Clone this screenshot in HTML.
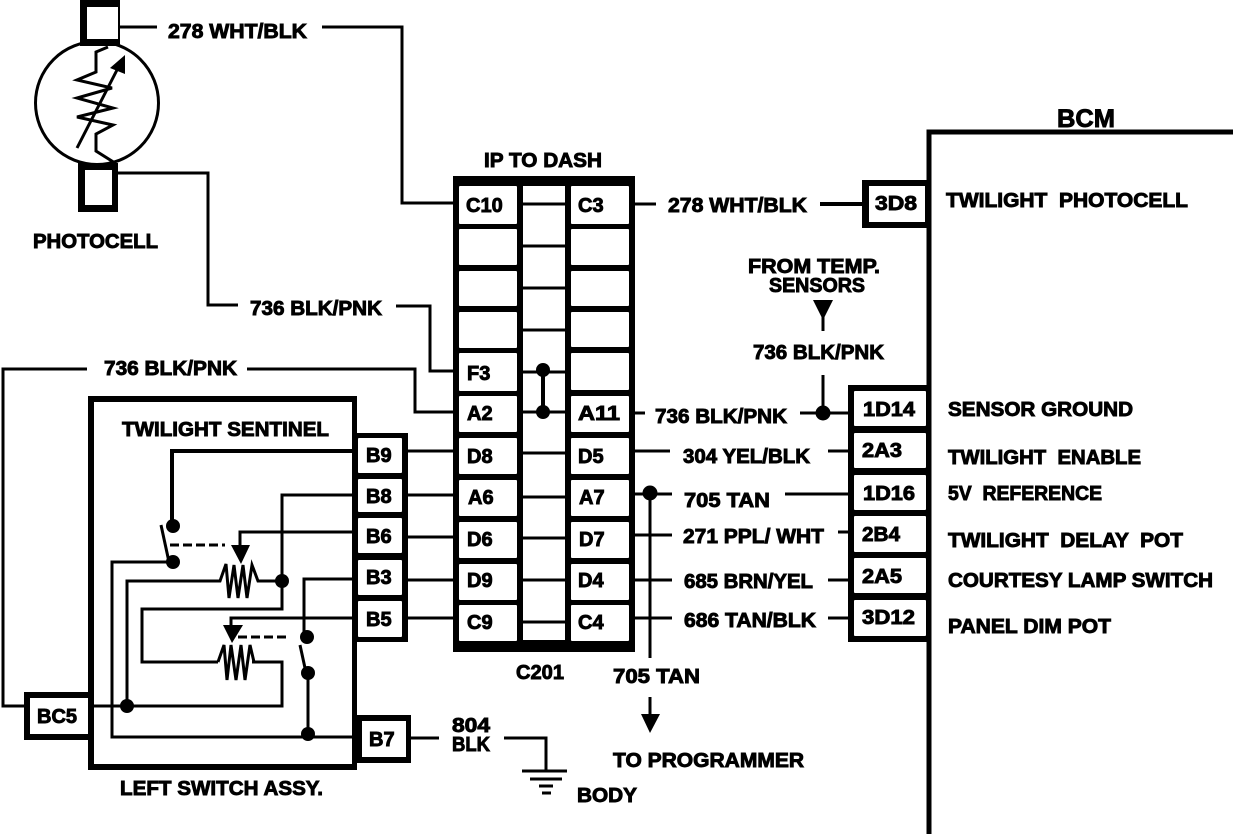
<!DOCTYPE html>
<html><head><meta charset="utf-8"><style>
html,body{margin:0;padding:0;background:#fff;width:1248px;height:834px;overflow:hidden}
svg{display:block}
text{font-family:"Liberation Sans",sans-serif;font-weight:bold;font-size:20px;fill:#000;stroke:#000;stroke-width:.9;white-space:pre}
.w{fill:none;stroke:#000;stroke-width:3}
.t{fill:none;stroke:#000;stroke-width:4}
.c{fill:#fff;stroke:none}
</style></head><body>
<svg width="1248" height="834" viewBox="0 0 1248 834" xmlns="http://www.w3.org/2000/svg">
<rect width="1248" height="834" fill="#fff"/>

<!-- Photocell -->
<circle cx="97" cy="103" r="61.5" class="w"/>
<rect x="87" y="7" width="32" height="32" fill="#fff"/>
<path d="M80 0H120V46H80Z M87 7V39H118V7Z" fill-rule="evenodd"/>
<rect x="85" y="170" width="27" height="35" fill="#fff"/>
<path d="M78 163H118V212H78Z M85 170V205H112V170Z" fill-rule="evenodd"/>
<path d="M108 47L96 52V72L77 80L112 88L77 98L113 108L77 117L113 125L96 134V151L115 163" class="w"/>
<path d="M77 148L118 68" class="w"/>
<path d="M125 55L110 68L125 74Z"/>

<path d="M120 27H157M322 27H402V203H455" class="w"/>
<path d="M118 173H208V305H238M396 306H430V371H455" class="w"/>
<path d="M87 369H3V706H24M247 369H415V412H455" class="w"/>

<!-- IP to dash connector -->
<rect x="453" y="176" width="182" height="476" fill="#000"/>
<rect x="523" y="186" width="42" height="454" fill="#fff"/>
<g class="c">
<rect x="459" y="186" width="58" height="38" rx="1"/><rect x="571" y="186" width="58" height="38" rx="1"/>
<rect x="459" y="229" width="58" height="36" rx="1"/><rect x="571" y="229" width="58" height="36" rx="1"/>
<rect x="459" y="271" width="58" height="35" rx="1"/><rect x="571" y="271" width="58" height="35" rx="1"/>
<rect x="459" y="312" width="58" height="36" rx="1"/><rect x="571" y="312" width="58" height="35" rx="1"/>
<rect x="459" y="353" width="58" height="38" rx="1"/><rect x="571" y="353" width="58" height="37" rx="1"/>
<rect x="459" y="396" width="58" height="36" rx="1"/><rect x="571" y="396" width="58" height="36" rx="1"/>
<rect x="459" y="438" width="58" height="36" rx="1"/><rect x="571" y="438" width="58" height="36" rx="1"/>
<rect x="459" y="480" width="58" height="36" rx="1"/><rect x="571" y="480" width="58" height="36" rx="1"/>
<rect x="459" y="522" width="58" height="36" rx="1"/><rect x="571" y="522" width="58" height="36" rx="1"/>
<rect x="459" y="564" width="58" height="36" rx="1"/><rect x="571" y="564" width="58" height="36" rx="1"/>
<rect x="459" y="605" width="58" height="36" rx="1"/><rect x="571" y="605" width="58" height="36" rx="1"/>
</g>
<path d="M523 204H565M523 246H565M523 288H565M523 330H565M523 372H565M523 412H565M523 453H565M523 497H565M523 538H565M523 580H565M523 622H565" class="w" stroke-width="2"/>
<path d="M543 370V412" class="t"/>
<circle cx="543" cy="370" r="7"/><circle cx="543" cy="412" r="7"/>

<path d="M408 451H455M408 495H455M408 537H455M408 580H455M408 618H455" class="w"/>

<!-- Left switch assy -->
<path d="M88 396H357V770H88Z M94 402V764H352V402Z" fill-rule="evenodd"/>
<rect x="353" y="433" width="55" height="209"/>
<g class="c">
<rect x="358" y="438" width="44" height="35" rx="1"/>
<rect x="358" y="479" width="44" height="33" rx="1"/>
<rect x="358" y="518" width="44" height="35" rx="1"/>
<rect x="358" y="560" width="44" height="35" rx="1"/>
<rect x="358" y="601" width="44" height="36" rx="1"/>
</g>
<path d="M357 715H411V763H357Z M362 721V757H406V721Z" fill-rule="evenodd"/>
<rect x="362" y="721" width="44" height="36" fill="#fff"/>
<rect x="24" y="692" width="68" height="48"/>
<rect x="30" y="698" width="58" height="36" fill="#fff"/>

<path d="M354 451H172V526" class="t"/>
<circle cx="173" cy="526" r="7"/>
<path d="M161 525L169 562" class="w"/>
<circle cx="173" cy="562" r="7"/>
<path d="M173 562H112V737H358" class="w"/>
<path d="M170 545H225" class="w" stroke-dasharray="9 4"/>

<path d="M354 495H282V609H142V662H218" class="w"/>
<path d="M252 662H282V706H92" class="w"/>
<path d="M354 532H240V548" class="w"/>
<path d="M231 545H250L241 564Z"/>
<path d="M127 706V581H220L226 564L229 598L234 565L238 598L243 565L247 598L252 565L258 581H282" class="w" stroke-width="3.5"/>
<circle cx="282" cy="581" r="7"/>
<circle cx="127" cy="706" r="7"/>

<path d="M354 579H304V637" class="w"/>
<path d="M354 618H231V630" class="w"/>
<path d="M223 625H243L232 643Z"/>
<path d="M238 637H290" class="w" stroke-dasharray="9 4"/>
<circle cx="307" cy="637" r="7"/>
<path d="M300 645L305 668" class="w"/>
<circle cx="308" cy="673" r="7"/>
<path d="M308 673V734" class="w"/>
<circle cx="308" cy="734" r="7"/>
<path d="M218 662L224 645L227 680L231 645L236 680L241 645L245 680L250 645L254 662" class="w" stroke-width="3.5"/>

<!-- Ground -->
<path d="M411 738H439M504 738H546V770" class="w"/>
<path d="M522 771H567M530 779H562M539 786H553M542 793H551" class="w"/>

<!-- BCM -->
<path d="M1233 132H929V834" fill="none" stroke="#000" stroke-width="5"/>
<rect x="848" y="385" width="82" height="257"/>
<g class="c">
<rect x="854" y="391" width="72" height="35" rx="1"/>
<rect x="854" y="433" width="72" height="35" rx="1"/>
<rect x="854" y="475" width="72" height="35" rx="1"/>
<rect x="854" y="516" width="72" height="36" rx="1"/>
<rect x="854" y="558" width="72" height="35" rx="1"/>
<rect x="854" y="600" width="72" height="36" rx="1"/>
</g>
<rect x="862" y="180" width="68" height="48"/>
<rect x="869" y="186" width="56" height="36" fill="#fff"/>

<!-- Right wires -->
<path d="M635 204H656M820 204H862" class="w"/>
<path d="M820 204H862" class="t"/>
<path d="M635 413H645" class="w"/>
<path d="M800 413H850M823 375V413" class="w"/>
<circle cx="823" cy="413" r="7.5"/>
<path d="M635 451H670M828 451H850" class="w"/>
<path d="M635 494H672M785 494H850" class="w"/>
<circle cx="650" cy="493" r="7.5"/>
<path d="M635 535H672M838 532H850" class="w"/>
<path d="M635 580H672M828 580H850" class="w"/>
<path d="M635 618H672M828 618H850" class="w"/>
<path d="M650 493V658" class="w"/>
<path d="M650 697V716" class="w"/>
<path d="M641 714H660L650 733Z"/>
<path d="M813 300H833L823 320Z"/>
<path d="M823 310V331" class="w"/>

<!-- Text -->
<text x="168" y="38" textLength="139" lengthAdjust="spacingAndGlyphs">278 WHT/BLK</text>
<text x="33" y="248" textLength="125" lengthAdjust="spacingAndGlyphs">PHOTOCELL</text>
<text x="250" y="315" textLength="132" lengthAdjust="spacingAndGlyphs">736 BLK/PNK</text>
<text x="104" y="375" textLength="133" lengthAdjust="spacingAndGlyphs">736 BLK/PNK</text>
<text x="484" y="167" textLength="118" lengthAdjust="spacingAndGlyphs">IP TO DASH</text>
<text x="1057" y="127" textLength="58" lengthAdjust="spacingAndGlyphs" style="font-size:25px">BCM</text>
<text x="668" y="212" textLength="139" lengthAdjust="spacingAndGlyphs">278 WHT/BLK</text>
<text x="946" y="207" textLength="242" lengthAdjust="spacingAndGlyphs" xml:space="preserve">TWILIGHT  PHOTOCELL</text>
<text x="748" y="273" textLength="132" lengthAdjust="spacingAndGlyphs">FROM TEMP.</text>
<text x="769" y="292" textLength="96" lengthAdjust="spacingAndGlyphs">SENSORS</text>
<text x="753" y="359" textLength="131" lengthAdjust="spacingAndGlyphs">736 BLK/PNK</text>
<text x="655" y="423" textLength="132" lengthAdjust="spacingAndGlyphs">736 BLK/PNK</text>
<text x="683" y="463" textLength="127" lengthAdjust="spacingAndGlyphs">304 YEL/BLK</text>
<text x="684" y="507" textLength="86" lengthAdjust="spacingAndGlyphs">705 TAN</text>
<text x="683" y="543" textLength="141" lengthAdjust="spacingAndGlyphs">271 PPL/ WHT</text>
<text x="684" y="588" textLength="129" lengthAdjust="spacingAndGlyphs">685 BRN/YEL</text>
<text x="684" y="627" textLength="132" lengthAdjust="spacingAndGlyphs">686 TAN/BLK</text>
<text x="948" y="416" textLength="185" lengthAdjust="spacingAndGlyphs">SENSOR GROUND</text>
<text x="948" y="464" textLength="193" lengthAdjust="spacingAndGlyphs" xml:space="preserve">TWILIGHT  ENABLE</text>
<text x="948" y="500" textLength="154" lengthAdjust="spacingAndGlyphs" xml:space="preserve">5V  REFERENCE</text>
<text x="948" y="547" textLength="235" lengthAdjust="spacingAndGlyphs" xml:space="preserve">TWILIGHT  DELAY  POT</text>
<text x="948" y="587" textLength="265" lengthAdjust="spacingAndGlyphs">COURTESY LAMP SWITCH</text>
<text x="948" y="633" textLength="163" lengthAdjust="spacingAndGlyphs">PANEL DIM POT</text>
<text x="122" y="436" textLength="207" lengthAdjust="spacingAndGlyphs">TWILIGHT SENTINEL</text>
<text x="120" y="795" textLength="203" lengthAdjust="spacingAndGlyphs">LEFT SWITCH ASSY.</text>
<text x="516" y="679" textLength="48" lengthAdjust="spacingAndGlyphs">C201</text>
<text x="613" y="683" textLength="87" lengthAdjust="spacingAndGlyphs">705 TAN</text>
<text x="613" y="767" textLength="191" lengthAdjust="spacingAndGlyphs">TO PROGRAMMER</text>
<text x="577" y="802" textLength="60" lengthAdjust="spacingAndGlyphs">BODY</text>
<text x="452" y="732" textLength="38" lengthAdjust="spacingAndGlyphs">804</text>
<text x="452" y="751" textLength="38" lengthAdjust="spacingAndGlyphs">BLK</text>

<text x="466" y="212">C10</text>
<text x="578" y="212">C3</text>
<text x="467" y="380">F3</text>
<text x="467" y="420">A2</text>
<text x="578" y="420" textLength="42" lengthAdjust="spacingAndGlyphs">A11</text>
<text x="467" y="463">D8</text>
<text x="578" y="463">D5</text>
<text x="468" y="504">A6</text>
<text x="579" y="504">A7</text>
<text x="467" y="546">D6</text>
<text x="579" y="546">D7</text>
<text x="467" y="587">D9</text>
<text x="578" y="587">D4</text>
<text x="467" y="629">C9</text>
<text x="578" y="629">C4</text>

<text x="366" y="462">B9</text>
<text x="366" y="503">B8</text>
<text x="366" y="543">B6</text>
<text x="366" y="584">B3</text>
<text x="366" y="626">B5</text>
<text x="369" y="746">B7</text>
<text x="37" y="723">BC5</text>

<text x="875" y="210" textLength="42" lengthAdjust="spacingAndGlyphs">3D8</text>
<text x="863" y="416" textLength="52" lengthAdjust="spacingAndGlyphs">1D14</text>
<text x="862" y="457" textLength="40" lengthAdjust="spacingAndGlyphs">2A3</text>
<text x="863" y="500" textLength="52" lengthAdjust="spacingAndGlyphs">1D16</text>
<text x="862" y="541" textLength="38" lengthAdjust="spacingAndGlyphs">2B4</text>
<text x="862" y="583" textLength="40" lengthAdjust="spacingAndGlyphs">2A5</text>
<text x="862" y="624" textLength="53" lengthAdjust="spacingAndGlyphs">3D12</text>
</svg>
</body></html>
